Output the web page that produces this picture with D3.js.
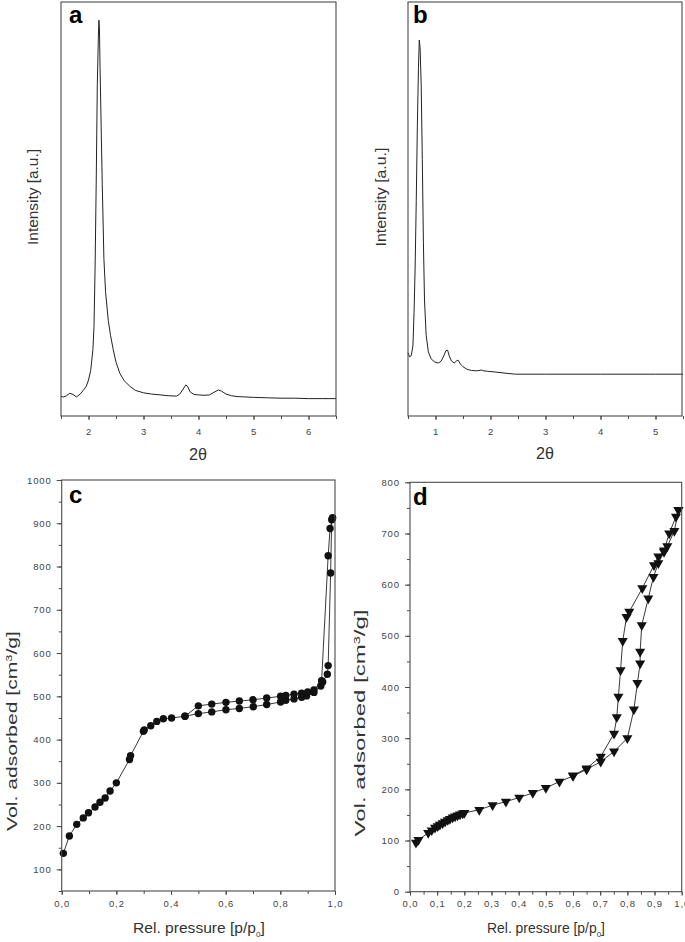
<!DOCTYPE html>
<html>
<head>
<meta charset="utf-8">
<script src="https://cdn.jsdelivr.net/npm/d3@7"></script>
<style>
  html, body { margin: 0; padding: 0; background: #fff; }
  svg { display: block; }
  text { font-family: "Liberation Sans", Arial, sans-serif; }
</style>
</head>
<body>
<svg id="chart" width="685" height="942"></svg>
<script>
// ---------------- DATA ----------------
// Panel a: XRD pattern (2θ vs intensity, arbitrary units 0–100)
const twoThetaA = [1.5,1.55,1.6,1.66,1.72,1.78,1.85,1.91,1.96,2.0,2.04,2.08,2.1,2.12,2.14,2.16,2.18,2.19,2.2,2.21,2.23,2.25,2.28,2.31,2.36,2.4,2.45,2.5,2.57,2.65,2.75,2.85,3.0,3.15,3.3,3.45,3.6,3.66,3.72,3.77,3.8,3.85,3.92,4.0,4.1,4.2,4.28,4.36,4.42,4.5,4.6,4.7,4.85,5.0,5.25,5.5,5.75,6.0,6.25,6.5];
const intensityA = [4.7,4.6,4.9,5.5,5.2,4.6,5.3,6.3,7.2,8.7,11,16,21.6,36,56,80,92,95.6,93,84,70,56,38,30,23,19.5,16,13,10.3,8.5,7.2,6.2,5.6,5.3,5.1,4.9,4.8,5.3,6.5,7.5,7.2,5.8,5.2,5.1,5.0,5.1,5.7,6.3,6.0,5.3,4.9,4.7,4.6,4.5,4.4,4.3,4.3,4.2,4.2,4.2];

// Panel b: XRD pattern
const twoThetaB = [0.5,0.53,0.56,0.59,0.61,0.63,0.65,0.67,0.69,0.705,0.72,0.74,0.76,0.78,0.8,0.83,0.87,0.92,0.98,1.05,1.1,1.15,1.19,1.22,1.25,1.29,1.34,1.38,1.41,1.45,1.5,1.57,1.65,1.75,1.84,1.88,1.95,2.1,2.3,2.45,3.0,3.5,4.0,4.5,5.0,5.5];
const intensityB = [15.3,14.3,14.6,17,25,36,52,70,84,90.8,89,80,62,42,28,19.5,15.5,13.8,13.1,12.8,13.2,14.5,15.8,15.9,14.5,13.3,12.8,13.3,13.5,12.6,11.9,11.3,11,10.9,11.1,10.9,10.8,10.6,10.3,10.1,10.1,10.1,10.1,10.1,10.1,10.1];

// Panel c: N2 isotherm (circles)
const cAdsP = [0.006,0.028,0.055,0.079,0.098,0.122,0.14,0.159,0.177,0.2,0.248,0.252,0.299,0.302,0.326,0.348,0.372,0.402,0.451,0.5,0.549,0.601,0.65,0.701,0.75,0.801,0.82,0.85,0.878,0.896,0.923,0.948,0.955,0.972,0.975,0.984,0.988,0.991];
const cAdsV = [137,177,204,219,231,244,255,265,281,300,354,363,419,422,432,442,448,450,454,460,464,469,472,476,481,487,491,494,498,501,509,524,533,551,571,785,908,912];
const cDesP = [0.991,0.982,0.975,0.951,0.923,0.9,0.878,0.85,0.82,0.801,0.75,0.7,0.65,0.601,0.549,0.5,0.451];
const cDesV = [912,888,825,536,515,510,507,505,502,500,496,492,489,486,482,478,454];

// Panel d: N2 isotherm (down triangles)
const dAdsP = [0.022,0.031,0.067,0.08,0.092,0.102,0.11,0.12,0.129,0.139,0.147,0.157,0.166,0.175,0.184,0.194,0.2,0.255,0.304,0.353,0.402,0.452,0.5,0.55,0.6,0.65,0.702,0.751,0.8,0.824,0.837,0.847,0.847,0.853,0.877,0.896,0.914,0.935,0.947,0.973,0.988];
const dAdsV = [96,101,115,120,125,128,131,134,137,140,142,145,147,149,151,153,154,160,169,176,184,193,203,215,226,239,254,274,300,356,408,446,469,521,573,615,642,664,675,705,746];
const dDesP = [0.988,0.979,0.954,0.935,0.914,0.898,0.855,0.807,0.797,0.783,0.775,0.767,0.761,0.751,0.702,0.65,0.6];
const dDesV = [746,733,700,667,655,638,593,547,537,490,433,381,341,309,264,241,227];

// Tick values
const ticksA = [2,3,4,5,6];
const minorA = [1.5,2,2.5,3,3.5,4,4.5,5,5.5,6,6.5];
const ticksB = [1,2,3,4,5];
const minorB = [0.5,1,1.5,2,2.5,3,3.5,4,4.5,5,5.5];
const ticksCx = [0,0.2,0.4,0.6,0.8,1.0];
const minorCx = [0,0.1,0.2,0.3,0.4,0.5,0.6,0.7,0.8,0.9,1.0];
const ticksCy = [100,200,300,400,500,600,700,800,900,1000];
const minorCy = [50,100,150,200,250,300,350,400,450,500,550,600,650,700,750,800,850,900,950,1000];
const ticksDx = [0,0.1,0.2,0.3,0.4,0.5,0.6,0.7,0.8,0.9,1.0];
const minorDx = [0,0.05,0.1,0.15,0.2,0.25,0.3,0.35,0.4,0.45,0.5,0.55,0.6,0.65,0.7,0.75,0.8,0.85,0.9,0.95,1.0];
const ticksDy = [0,100,200,300,400,500,600,700,800];
const minorDy = [0,50,100,150,200,250,300,350,400,450,500,550,600,650,700,750,800];

// ---------------- DRAWING ----------------
const svg = d3.select("#chart");
const frameColor = "#4a4a4a";
const tickTextColor = "#444";
const titleColor = "#333";
const commaFmt = v => d3.format(".1f")(v).replace(".", ",");

function frame(x0, y0, x1, y1) {
  svg.append("rect")
    .attr("x", x0).attr("y", y0).attr("width", x1 - x0).attr("height", y1 - y0)
    .attr("fill", "none").attr("stroke", frameColor).attr("stroke-width", 1.1);
}

function styleAxis(g) {
  g.select(".domain").remove();
  g.selectAll("line").attr("stroke", frameColor).attr("stroke-width", 1);
  g.selectAll("text")
    .attr("fill", tickTextColor)
    .style("font-size", "9.5px")
    .style("letter-spacing", "0.9px");
}

function bottomAxis(scale, y, majors, minors, fmt, pad) {
  const gMin = svg.append("g").attr("transform", `translate(0,${y})`)
    .call(d3.axisBottom(scale).tickValues(minors).tickSize(3).tickFormat(""));
  styleAxis(gMin);
  const gMaj = svg.append("g").attr("transform", `translate(0,${y})`)
    .call(d3.axisBottom(scale).tickValues(majors).tickSize(4).tickPadding(pad).tickFormat(fmt));
  styleAxis(gMaj);
}

function leftAxis(scale, x, majors, minors, fmt, pad) {
  const gMin = svg.append("g").attr("transform", `translate(${x},0)`)
    .call(d3.axisLeft(scale).tickValues(minors).tickSize(3).tickFormat(""));
  styleAxis(gMin);
  const gMaj = svg.append("g").attr("transform", `translate(${x},0)`)
    .call(d3.axisLeft(scale).tickValues(majors).tickSize(5).tickPadding(pad).tickFormat(fmt));
  styleAxis(gMaj);
}

function stretchedTitle(x, y, rot, targetLen, size, build) {
  const g = svg.append("g").attr("transform", `translate(${x},${y}) rotate(${rot})`);
  const t = g.append("text")
    .attr("text-anchor", "middle")
    .attr("dy", "0.35em")
    .attr("fill", titleColor)
    .style("font-size", size + "px");
  build(t);
  const len = t.node().getComputedTextLength();
  if (len > 0) t.attr("transform", `scale(${targetLen / len},1)`);
}

function panelLetter(x, y, s) {
  svg.append("text").attr("x", x).attr("y", y)
    .attr("fill", "#000")
    .style("font-size", "24px").style("font-weight", "bold")
    .text(s);
}

// ---- Panel a ----
const xA = d3.scaleLinear([1.5, 6.5], [61, 336]);
const yA = d3.scaleLinear([0, 100], [416, 2]);
bottomAxis(xA, 416, ticksA, minorA, d3.format("d"), 8);
svg.append("path")
  .datum(d3.zip(twoThetaA, intensityA))
  .attr("fill", "none").attr("stroke", "#222").attr("stroke-width", 1)
  .attr("d", d3.line().x(d => xA(d[0])).y(d => yA(d[1])));
frame(61, 2, 336, 416);
panelLetter(69, 23, "a");
stretchedTitle(33, 197, -90, 96, 15, t => t.text("Intensity [a.u.]"));
stretchedTitle(198, 454, 0, 18, 16, t => t.text("2θ"));

// ---- Panel b ----
const xB = d3.scaleLinear([0.5, 5.5], [408, 683]);
const yB = d3.scaleLinear([0, 100], [416, 2]);
bottomAxis(xB, 416, ticksB, minorB, d3.format("d"), 8);
svg.append("path")
  .datum(d3.zip(twoThetaB, intensityB))
  .attr("fill", "none").attr("stroke", "#222").attr("stroke-width", 1)
  .attr("d", d3.line().x(d => xB(d[0])).y(d => yB(d[1])));
frame(408, 2, 682, 416);
panelLetter(413, 23, "b");
stretchedTitle(381, 197, -90, 99, 15, t => t.text("Intensity [a.u.]"));
stretchedTitle(545, 453, 0, 18, 16, t => t.text("2θ"));

// ---- Panel c ----
const xC = d3.scaleLinear([0, 1], [61.7, 335]);
const yC = d3.scaleLinear([50, 1000], [891, 480]);
bottomAxis(xC, 891, ticksCx, minorCx, commaFmt, 5);
leftAxis(yC, 61.7, ticksCy, minorCy, d3.format("d"), 5);
const lineC = d3.line().x(d => xC(d[0])).y(d => yC(d[1]));
[d3.zip(cAdsP, cAdsV), d3.zip(cDesP, cDesV)].forEach(pts => {
  svg.append("path").datum(pts)
    .attr("fill", "none").attr("stroke", "#222").attr("stroke-width", 0.9)
    .attr("d", lineC);
});
svg.append("g").selectAll("circle")
  .data(d3.zip(cAdsP, cAdsV).concat(d3.zip(cDesP, cDesV)))
  .join("circle")
  .attr("cx", d => xC(d[0])).attr("cy", d => yC(d[1]))
  .attr("r", 3.7).attr("fill", "#111");
frame(61.7, 480, 335, 891);
panelLetter(69, 503, "c");
stretchedTitle(12, 731, -90, 200, 15, t => {
  t.append("tspan").text("Vol. adsorbed [cm");
  t.append("tspan").attr("dy", -5).style("font-size", "9px").text("3");
  t.append("tspan").attr("dy", 5).text("/g]");
});
stretchedTitle(199, 928, 0, 132, 15, t => {
  t.append("tspan").text("Rel. pressure [p/p");
  t.append("tspan").attr("dy", 4).style("font-size", "8px").text("0");
  t.append("tspan").attr("dy", -4).text("]");
});

// ---- Panel d ----
const xD = d3.scaleLinear([0, 1], [410, 681.7]);
const yD = d3.scaleLinear([0, 800], [891.7, 482.3]);
bottomAxis(xD, 891.7, ticksDx, minorDx, commaFmt, 5);
leftAxis(yD, 410, ticksDy, minorDy, d3.format("d"), 5);
const lineD = d3.line().x(d => xD(d[0])).y(d => yD(d[1]));
[d3.zip(dAdsP, dAdsV), d3.zip(dDesP, dDesV)].forEach(pts => {
  svg.append("path").datum(pts)
    .attr("fill", "none").attr("stroke", "#222").attr("stroke-width", 0.9)
    .attr("d", lineD);
});
const tri = d3.symbol().type(d3.symbolTriangle).size(44)();
svg.append("g").selectAll("path")
  .data(d3.zip(dAdsP, dAdsV).concat(d3.zip(dDesP, dDesV)))
  .join("path")
  .attr("d", tri)
  .attr("transform", d => `translate(${xD(d[0])},${yD(d[1])}) rotate(180)`)
  .attr("fill", "#111");
frame(410, 482.3, 681.7, 891.7);
panelLetter(413, 505, "d");
stretchedTitle(360, 723, -90, 227, 15, t => {
  t.append("tspan").text("Vol. adsorbed [cm");
  t.append("tspan").attr("dy", -5).style("font-size", "9px").text("3");
  t.append("tspan").attr("dy", 5).text("/g]");
});
stretchedTitle(546, 928, 0, 118, 14, t => {
  t.append("tspan").text("Rel. pressure [p/p");
  t.append("tspan").attr("dy", 4).style("font-size", "8px").text("0");
  t.append("tspan").attr("dy", -4).text("]");
});
</script>
</body>
</html>
